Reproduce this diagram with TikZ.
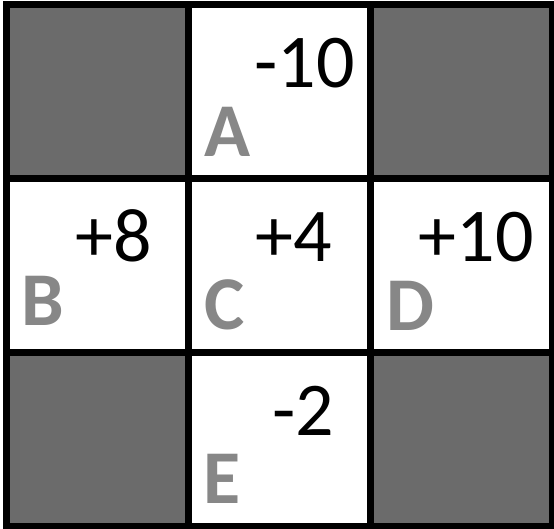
\documentclass[tikz,border=0pt]{standalone}
\usepackage{fontspec}
\setmainfont{Carlito}
\usepackage{tikz}
\usetikzlibrary{calc}
\definecolor{gwWall}{HTML}{6B6B6B}
\definecolor{gwLetter}{HTML}{878787}

\tikzset{
  cellbox/.style={draw=black, line width=7pt, minimum width=182pt, minimum height=174pt,
    inner sep=0pt, outer sep=0pt, fill=white},
  wallbox/.style={cellbox, fill=gwWall},
  letterlbl/.style={font=\fontsize{76}{80}\selectfont\bfseries, text=gwLetter, anchor=base west, inner sep=0pt},
  rewardlbl/.style={font=\fontsize{76}{80}\selectfont, text=black, anchor=base west, inner sep=0pt}
}

\begin{document}
\begin{tikzpicture}[x=1pt, y=-1pt]
    \useasboundingbox (0,0) rectangle (554,528);
    % walls
    \node[wallbox] (nw) at (97.5,91) {};
    \node[wallbox] (ne) at (461.5,91) {};
    \node[wallbox] (sw) at (97.5,439) {};
    \node[wallbox] (se) at (461.5,439) {};
    % open cells
    \node[cellbox] (cellA) at (279.5,91) {};
    \node[cellbox] (cellB) at (97.5,265) {};
    \node[cellbox] (cellC) at (279.5,265) {};
    \node[cellbox] (cellD) at (461.5,265) {};
    \node[cellbox] (cellE) at (279.5,439) {};
    % rewards
    \node[rewardlbl] (rwA) at ($(cellA.north west)+(66,83)$) {-10};
    \node[rewardlbl] (rwB) at ($(cellB.north west)+(69,83)$) {+8};
    \node[rewardlbl] (rwC) at ($(cellC.north west)+(67,83)$) {+4};
    \node[rewardlbl] (rwD) at ($(cellD.north west)+(48,83)$) {+10};
    \node[rewardlbl] (rwE) at ($(cellE.north west)+(84,83)$) {-2};
    % state letters
    \node[letterlbl] (lbA) at ($(cellA.north west)+(16,152)$) {A};
    \node[letterlbl] (lbB) at ($(cellB.north west)+(15,147)$) {B};
    \node[letterlbl] (lbC) at ($(cellC.north west)+(16,151)$) {C};
    \node[letterlbl] (lbD) at ($(cellD.north west)+(16,152)$) {D};
    \node[letterlbl] (lbE) at ($(cellE.north west)+(15,151)$) {E};
\end{tikzpicture}
\end{document}
